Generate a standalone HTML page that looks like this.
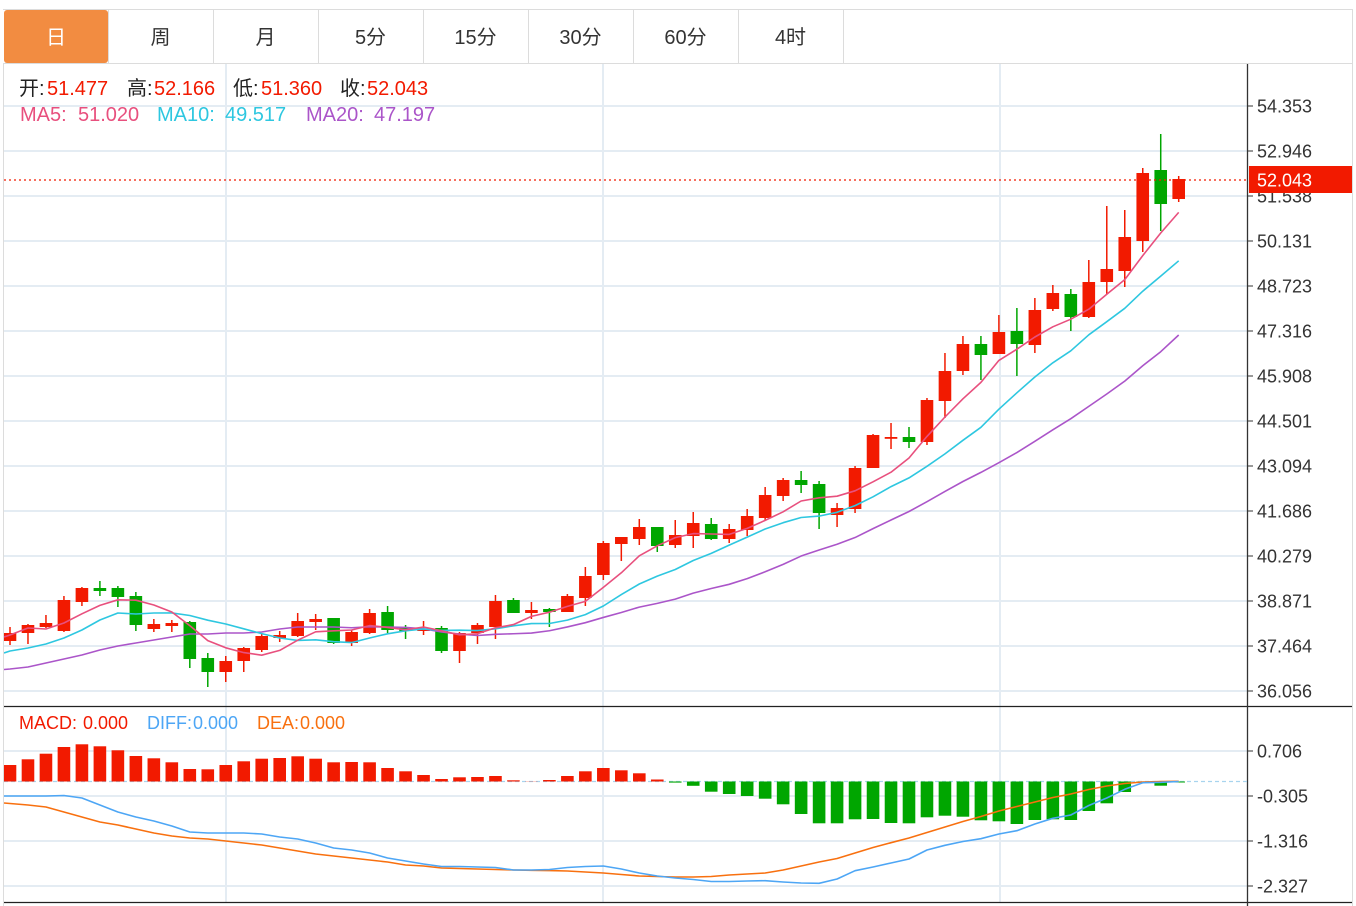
<!DOCTYPE html>
<html>
<head>
<meta charset="utf-8">
<style>
html,body{margin:0;padding:0;background:#fff;}
svg{display:block;}
text{font-family:"Liberation Sans","Noto Sans CJK SC",sans-serif;}
</style>
</head>
<body>
<svg id="c" width="1356" height="906" viewBox="0 0 1356 906" xmlns="http://www.w3.org/2000/svg">
  <defs>
    <clipPath id="cm"><rect x="4" y="64" width="1243" height="642"/></clipPath>
    <clipPath id="cd"><rect x="4" y="707" width="1243" height="195"/></clipPath>
  </defs>
  <rect x="0" y="0" width="1356" height="906" fill="#fff"/>
  <!-- tabs -->
  <line x1="3" y1="9.5" x2="1353" y2="9.5" stroke="#dcdcdc" stroke-width="1"/>
  <rect x="4" y="10" width="104" height="53" rx="3" fill="#f28c41"/>
  <g stroke="#dcdcdc" stroke-width="1">
    <line x1="108.5" y1="10" x2="108.5" y2="63"/>
    <line x1="213.5" y1="10" x2="213.5" y2="63"/>
    <line x1="318.5" y1="10" x2="318.5" y2="63"/>
    <line x1="423.5" y1="10" x2="423.5" y2="63"/>
    <line x1="528.5" y1="10" x2="528.5" y2="63"/>
    <line x1="633.5" y1="10" x2="633.5" y2="63"/>
    <line x1="738.5" y1="10" x2="738.5" y2="63"/>
    <line x1="843.5" y1="10" x2="843.5" y2="63"/>
    <line x1="4" y1="63.5" x2="1352" y2="63.5"/>
    <line x1="1352.5" y1="10" x2="1352.5" y2="906"/>
    <line x1="3.5" y1="63" x2="3.5" y2="906"/>
  </g>
  <g font-size="20" text-anchor="middle" fill="#333">
    <text x="56" y="44" fill="#fff">日</text>
    <text x="160.5" y="44">周</text>
    <text x="265.5" y="44">月</text>
    <text x="370.5" y="44">5分</text>
    <text x="475.5" y="44">15分</text>
    <text x="580.5" y="44">30分</text>
    <text x="685.5" y="44">60分</text>
    <text x="790.5" y="44">4时</text>
  </g>
  <!-- grid -->
  <g stroke="#e4ecf3" stroke-width="2">
    <line x1="4" y1="106" x2="1247" y2="106"/>
    <line x1="4" y1="151" x2="1247" y2="151"/>
    <line x1="4" y1="196" x2="1247" y2="196"/>
    <line x1="4" y1="241" x2="1247" y2="241"/>
    <line x1="4" y1="286" x2="1247" y2="286"/>
    <line x1="4" y1="331" x2="1247" y2="331"/>
    <line x1="4" y1="376" x2="1247" y2="376"/>
    <line x1="4" y1="421" x2="1247" y2="421"/>
    <line x1="4" y1="466" x2="1247" y2="466"/>
    <line x1="4" y1="511" x2="1247" y2="511"/>
    <line x1="4" y1="556" x2="1247" y2="556"/>
    <line x1="4" y1="601" x2="1247" y2="601"/>
    <line x1="4" y1="646" x2="1247" y2="646"/>
    <line x1="4" y1="691" x2="1247" y2="691"/>
    <line x1="4" y1="751" x2="1247" y2="751"/>
    <line x1="4" y1="796" x2="1247" y2="796"/>
    <line x1="4" y1="841" x2="1247" y2="841"/>
    <line x1="4" y1="886" x2="1247" y2="886"/>
    <line x1="226" y1="64" x2="226" y2="902"/>
    <line x1="603" y1="64" x2="603" y2="902"/>
    <line x1="1000" y1="64" x2="1000" y2="902"/>
  </g>
  <!-- panel borders -->
  <line x1="4" y1="706.5" x2="1352" y2="706.5" stroke="#222" stroke-width="1.3"/>
  <line x1="4" y1="902.5" x2="1352" y2="902.5" stroke="#222" stroke-width="1.3"/>
  <line x1="1247.5" y1="64" x2="1247.5" y2="906" stroke="#333" stroke-width="1.3"/>
  <!-- ticks -->
  <g stroke="#333" stroke-width="1">
    <line x1="1247" y1="106" x2="1253" y2="106"/>
    <line x1="1247" y1="151" x2="1253" y2="151"/>
    <line x1="1247" y1="196" x2="1253" y2="196"/>
    <line x1="1247" y1="241" x2="1253" y2="241"/>
    <line x1="1247" y1="286" x2="1253" y2="286"/>
    <line x1="1247" y1="331" x2="1253" y2="331"/>
    <line x1="1247" y1="376" x2="1253" y2="376"/>
    <line x1="1247" y1="421" x2="1253" y2="421"/>
    <line x1="1247" y1="466" x2="1253" y2="466"/>
    <line x1="1247" y1="511" x2="1253" y2="511"/>
    <line x1="1247" y1="556" x2="1253" y2="556"/>
    <line x1="1247" y1="601" x2="1253" y2="601"/>
    <line x1="1247" y1="646" x2="1253" y2="646"/>
    <line x1="1247" y1="691" x2="1253" y2="691"/>
    <line x1="1247" y1="751" x2="1253" y2="751"/>
    <line x1="1247" y1="796" x2="1253" y2="796"/>
    <line x1="1247" y1="841" x2="1253" y2="841"/>
    <line x1="1247" y1="886" x2="1253" y2="886"/>
  </g>
  <g font-size="18" fill="#333">
    <text x="1257" y="112.5">54.353</text>
    <text x="1257" y="157.5">52.946</text>
    <text x="1257" y="202.5">51.538</text>
    <text x="1257" y="247.5">50.131</text>
    <text x="1257" y="292.5">48.723</text>
    <text x="1257" y="337.5">47.316</text>
    <text x="1257" y="382.5">45.908</text>
    <text x="1257" y="427.5">44.501</text>
    <text x="1257" y="472.5">43.094</text>
    <text x="1257" y="517.5">41.686</text>
    <text x="1257" y="562.5">40.279</text>
    <text x="1257" y="607.5">38.871</text>
    <text x="1257" y="652.5">37.464</text>
    <text x="1257" y="697.5">36.056</text>
    <text x="1257" y="757.5">0.706</text>
    <text x="1257" y="802.5">-0.305</text>
    <text x="1257" y="847.5">-1.316</text>
    <text x="1257" y="892.5">-2.327</text>
  </g>
  <g id="main" clip-path="url(#cm)"></g>
  <g id="macd" clip-path="url(#cd)"></g>
  <!-- price line -->
  <line x1="4" y1="180" x2="1247" y2="180" stroke="#f21a00" stroke-width="1.3" stroke-dasharray="2,3"/>
  <rect x="1249" y="166" width="103" height="27" fill="#f21a00"/>
  <text x="1257" y="186.5" font-size="18" fill="#fff">52.043</text>
  <!-- legends -->
  <g font-size="20">
    <text x="19" y="95" fill="#222">开:</text>
    <text x="47" y="95" fill="#f21a00">51.477</text>
    <text x="127" y="95" fill="#222">高:</text>
    <text x="154" y="95" fill="#f21a00">52.166</text>
    <text x="233" y="95" fill="#222">低:</text>
    <text x="261" y="95" fill="#f21a00">51.360</text>
    <text x="340" y="95" fill="#222">收:</text>
    <text x="367" y="95" fill="#f21a00">52.043</text>
    <text x="20" y="121" fill="#e8507e">MA5:</text>
    <text x="78" y="121" fill="#e8507e">51.020</text>
    <text x="157" y="121" fill="#2ec7e0">MA10:</text>
    <text x="225" y="121" fill="#2ec7e0">49.517</text>
    <text x="306" y="121" fill="#ab55c9">MA20:</text>
    <text x="374" y="121" fill="#ab55c9">47.197</text>
  </g>
  <g font-size="18">
    <text x="19" y="729" fill="#f21a00">MACD:</text>
    <text x="83" y="729" fill="#f21a00">0.000</text>
    <text x="147" y="729" fill="#4da6f5">DIFF:</text>
    <text x="193" y="729" fill="#4da6f5">0.000</text>
    <text x="257" y="729" fill="#f8700f">DEA:</text>
    <text x="300" y="729" fill="#f8700f">0.000</text>
  </g>
</svg>
<script>
(function(){
var NS="http://www.w3.org/2000/svg";
var D=[
[1,633,641,627,645],[1,625,633,624,644],[1,623,627,615,628],[1,600,631,596,632],[1,588,602,587,606],
[0,588,591,581,596],[0,588,597,586,607],[0,596,625,592,631],[1,624,629,619,632],[1,623,626,620,632],
[0,622,659,621,668],[0,658,672,653,687],[1,661,672,656,682],[1,648,661,647,672],[1,636,650,634,652],
[1,635,638,631,642],[1,621,636,613,637],[1,619,622,614,630],[0,618,643,618,644],[1,632,643,630,646],
[1,613,633,609,634],[0,612,630,606,633],[0,628,631,625,639],[1,629,631,621,635],[0,628,651,626,653],
[1,633,651,632,663],[1,625,633,623,644],[1,601,627,595,639],[0,600,613,598,613],[1,610,613,602,619],
[0,609,612,608,627],[1,596,612,594,612],[1,576,598,567,606],[1,543,575,541,580],[1,537,544,537,561],
[1,527,539,519,545],[0,527,546,527,552],[1,535,545,520,548],[1,523,536,512,548],[0,524,539,518,540],
[1,529,539,524,543],[1,516,530,509,536],[1,495,518,487,520],[1,480,496,478,501],[0,480,485,471,493],
[0,484,513,481,529],[1,508,515,503,527],[1,468,509,466,513],[1,435,468,434,468],[1,437,438,423,449],
[0,437,442,427,448],[1,400,442,398,445],[1,371,401,353,418],[1,344,371,336,375],[0,344,355,336,380],
[1,332,354,315,354],[0,331,344,308,376],[1,310,345,298,353],[1,293,309,285,311],[0,294,317,289,331],
[1,282,317,260,318],[1,269,282,206,294],[1,237,271,210,287],[1,173,241,168,252],[0,170,204,134,231],
[1,179,199,176,202]];
var N=D.length;
function X(i){return 10+17.98*i;}
var RED="#f21a00",GRN="#00a600";
var s="";
var close=D.map(function(d){return d[0]?d[1]:d[2];});
function ma(n,manual){
  var r=[];
  for(var i=0;i<N;i++){
    if(i>=n-1){var t=0;for(var k=i-n+1;k<=i;k++)t+=close[k];r.push(t/n);}
    else r.push(manual[i]);
  }
  return r;
}
var m5=ma(5,[635,628,629,623]);
var m10=ma(10,[651,648,644,638,630,620,613,614,613]);
var m20=ma(20,[669,667,663,659,655,650,646,643,640,637,634,634,633,633,632,629,627,627,627]);
function poly(arr,col,w,x0y){
  var p=[];
  if(x0y!==undefined)p.push("4,"+x0y);
  for(var i=0;i<arr.length;i++)p.push(X(i).toFixed(2)+","+arr[i].toFixed(2));
  return '<polyline points="'+p.join(" ")+'" fill="none" stroke="'+col+'" stroke-width="'+w+'" stroke-linejoin="round"/>';
}
for(var i=0;i<N;i++){
  var d=D[i],x=X(i),c=d[0]?RED:GRN;
  s+='<line x1="'+x+'" x2="'+x+'" y1="'+d[3]+'" y2="'+d[4]+'" stroke="'+c+'" stroke-width="1.5"/>';
  var h=Math.max(d[2]-d[1],1.8);
  s+='<rect x="'+(x-6.3)+'" y="'+d[1]+'" width="12.6" height="'+h+'" fill="'+c+'"/>';
}
s+=poly(m20,"#ab55c9",1.6,669.5);
s+=poly(m10,"#2ec7e0",1.6,653);
s+=poly(m5,"#e8507e",1.6,637);
document.getElementById("main").innerHTML=s;

var H=[765,759.3,753.7,747,744.3,746.3,750.3,756,758.3,762.3,769,769.3,765,761.3,758.7,758,756.3,758.7,762.3,762,
762.3,768,771.3,775,779,777.3,777,776,780.3,781.3,780,776,771.3,768,770.3,773.3,779.5,782.6,785.8,791.7,
794,796,798.7,804.3,814,823.3,823.3,819.3,819,823,823.3,817.3,815.7,816.7,820.3,821.3,824,820,819.3,820,
811,803.3,792,782.7,785.7,782.3];
var DIF=[796,796,796,795.5,798,805,812,817,821,826,832,833,833,833,834,837,839,843,848,850,
853,858,861,864,866.5,866.5,867,867.5,870,870,869.5,867.5,866.5,866,869,873,876,878,879.5,881.5,
881.5,881,880.7,882,883,883.3,879,870.7,867,863,859,850,845.3,841.5,838.7,834,830.7,824,818.3,815,
805.5,798,789.3,782.7,782.3,781.5];
var DEA=[803.5,805,807,812,817,822,825,829,833,836,838,839,841,843,845,848,851,854,856,858,
860,862,865,866,868,868.5,869,869.5,870,870.3,870.6,871,872,873,874.5,876,876.5,877,877,876.5,
875,874,873,870,866,862,858.5,853,847.5,842.7,838,832.5,827,821.5,816.5,811,806.5,802,797.5,794,
789.5,786,783.5,782,781.5,781.3];
var Z=781.5;
var t='<line x1="4" y1="'+Z+'" x2="1247" y2="'+Z+'" stroke="#a8d4ee" stroke-width="1.3" stroke-dasharray="4,3"/>';
for(var j=0;j<N;j++){
  var x=X(j),v=H[j];
  if(v<Z){t+='<rect x="'+(x-6.3)+'" y="'+v+'" width="12.6" height="'+(Z-v)+'" fill="'+RED+'"/>';}
  else{var hh=Math.max(v-Z,1);t+='<rect x="'+(x-6.3)+'" y="'+Z+'" width="12.6" height="'+hh+'" fill="'+GRN+'"/>';}
}
t+=poly(DEA,"#f8700f",1.6,803);
t+=poly(DIF,"#4da6f5",1.6,796);
document.getElementById("macd").innerHTML=t;
})();
</script>
</body>
</html>
